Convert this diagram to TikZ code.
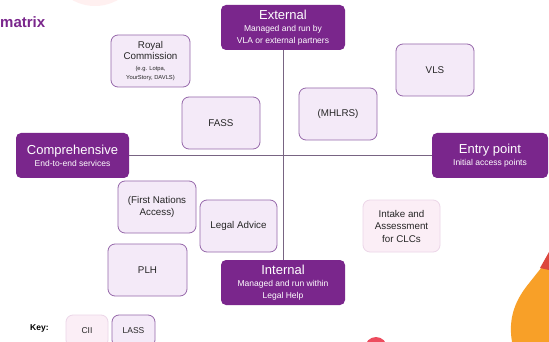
\documentclass[tikz,border=0pt]{standalone}
\usepackage{fontspec}
\setmainfont{Liberation Sans}
\definecolor{dpurple}{RGB}{122,38,140}
\definecolor{lasfill}{RGB}{244,234,248}
\definecolor{lasdraw}{RGB}{150,104,170}
\definecolor{ciifill}{RGB}{251,238,246}
\definecolor{ciidraw}{RGB}{236,214,232}
\definecolor{axis}{RGB}{120,100,130}
\definecolor{orangeshape}{RGB}{248,160,40}
\definecolor{redtip}{RGB}{220,70,60}
\begin{document}
\begin{tikzpicture}[x=1pt,y=-1pt,
  head/.style={draw=none,fill=dpurple,rounded corners=5pt,text=white,align=center,inner sep=0pt},
  lass/.style={draw=lasdraw,line width=0.8pt,fill=lasfill,rounded corners=7pt,align=center,inner sep=0pt,font=\fontsize{9.8}{12.5}\selectfont,text=black!85},
  cii/.style={draw=ciidraw,line width=0.8pt,fill=ciifill,rounded corners=7pt,align=center,inner sep=0pt,font=\fontsize{9.8}{12.5}\selectfont,text=black!85},
  axisline/.style={draw=axis,line width=0.7pt}]
\useasboundingbox (0,0) rectangle (549,342);
\clip (0,0) rectangle (549,342);
\fill[white] (0,0) rectangle (549,342);
% decorations
\fill[red!6] (95,-40) circle (46);
\fill[orangeshape] (549,258) -- (549,342) -- (512,342) .. controls (508,318) and (515,300) .. (530,282) -- cycle;
\fill[redtip] (549,252) -- (549,270) -- (540,268) -- cycle;
\fill[red!60!purple!70] (376,348) circle (11);
\node[anchor=west,text=dpurple,font=\bfseries\fontsize{15}{17}\selectfont,inner sep=0pt] (title) at (0,22) {matrix};
% axes nodes
\node[head,minimum width=124pt,minimum height=45pt] (ext) at (283,27.5) {{\fontsize{13}{15}\selectfont External}\\[0pt]{\fontsize{8.5}{10}\selectfont Managed and run by}\\[-0.5pt]{\fontsize{8.5}{10}\selectfont VLA or external partners}};
\node[head,minimum width=124pt,minimum height=45pt] (int) at (283,282.5) {{\fontsize{13}{15}\selectfont Internal}\\[0pt]{\fontsize{8.5}{10}\selectfont Managed and run within}\\[-0.5pt]{\fontsize{8.5}{10}\selectfont Legal Help}};
\node[head,minimum width=113pt,minimum height=45pt] (comp) at (72.5,155.5) {{\fontsize{13}{15}\selectfont Comprehensive}\\[0pt]{\fontsize{8.5}{10}\selectfont End-to-end services}};
\node[head,minimum width=116pt,minimum height=45pt] (entry) at (490,155.5) {{\fontsize{13}{15}\selectfont Entry point}\\[0pt]{\fontsize{8.5}{10}\selectfont Initial access points}};
\draw[axisline] (ext.south) -- (int.north);
\draw[axisline] (comp.east) -- (entry.west);
% service boxes
\node[lass,minimum width=79pt,minimum height=52pt] (royal) at (150.5,61) {Royal\\[-1pt]Commission\\[-2pt]{\fontsize{5.8}{7}\selectfont (e.g. Lotpa,}\\[-3pt]{\fontsize{5.8}{7}\selectfont YourStory, DAVLS)}};
\node[lass,minimum width=78pt,minimum height=52pt] (fass) at (221,123) {FASS};
\node[lass,minimum width=78pt,minimum height=52pt] (vls) at (435,70) {VLS};
\node[lass,minimum width=78pt,minimum height=52pt] (mhlrs) at (338,114) {(MHLRS)};
\node[lass,minimum width=78pt,minimum height=52pt] (fna) at (157,207) {(First Nations\\Access)};
\node[lass,minimum width=77pt,minimum height=52pt] (legal) at (238.5,226) {Legal Advice};
\node[cii,minimum width=77pt,minimum height=52pt] (intake) at (401.5,226) {Intake and\\Assessment\\for CLCs};
\node[lass,minimum width=79pt,minimum height=52pt] (plh) at (147.5,270) {PLH};
% key
\node[anchor=west,font=\bfseries\fontsize{8.5}{10}\selectfont,inner sep=0pt] (key) at (30,328) {Key:};
\node[cii,minimum width=42pt,minimum height=32pt,font=\fontsize{8.5}{10}\selectfont] (ciik) at (87,331) {CII};
\node[lass,minimum width=43pt,minimum height=32pt,font=\fontsize{8.5}{10}\selectfont] (lassk) at (133.5,331) {LASS};
\end{tikzpicture}
\end{document}
